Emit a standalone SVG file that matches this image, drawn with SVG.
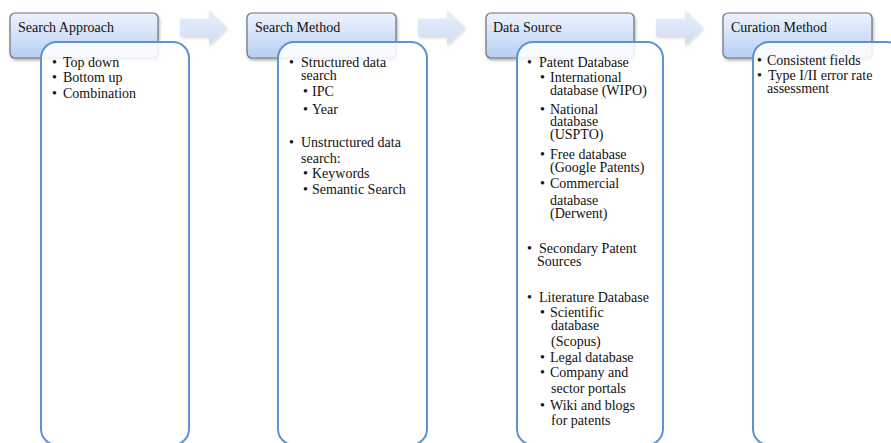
<svg xmlns="http://www.w3.org/2000/svg" width="891" height="443" viewBox="0 0 891 443">
<defs>
<linearGradient id="hg" x1="0" y1="0" x2="0" y2="1">
<stop offset="0" stop-color="#eef3fd"/>
<stop offset="1" stop-color="#b8cef4"/>
</linearGradient>
<linearGradient id="ag" x1="0" y1="0" x2="0" y2="1">
<stop offset="0" stop-color="#e9f0fb"/>
<stop offset="1" stop-color="#cfdcf3"/>
</linearGradient>
<filter id="sh" x="-10%" y="-20%" width="130%" height="160%">
<feDropShadow dx="1" dy="2" stdDeviation="1.5" flood-color="#000" flood-opacity="0.3"/>
</filter>
<filter id="sh2" x="-10%" y="-20%" width="130%" height="160%">
<feDropShadow dx="1" dy="2" stdDeviation="1.5" flood-color="#000" flood-opacity="0.15"/>
</filter>
<path id="arr" d="M0,8.5 H29 V0 L47,17.5 L29,35 V26 H0 Z"/>
</defs>
<style>
.hdr{fill:url(#hg);stroke:#6a717c;stroke-width:1.2;filter:url(#sh)}
.box{fill:#ffffff;fill-opacity:0.88;stroke:#5f93cf;stroke-width:2}
.arrow{fill:url(#ag);filter:url(#sh2)}
text{font-family:"Liberation Serif","Times New Roman",serif;font-size:14px;fill:#111}
</style>
<rect width="891" height="443" fill="#ffffff"/>
<g id="connectors">
<use href="#arr" class="arrow" x="180" y="10"/>
<use href="#arr" class="arrow" x="418" y="10"/>
<use href="#arr" class="arrow" x="656" y="10"/>
</g>
<g id="search-approach">
<rect class="hdr" x="10" y="13" width="148" height="45" rx="5"/>
<text x="18" y="32">Search Approach</text>
<rect class="box" x="41" y="42" width="148" height="403" rx="16"/>
<text><tspan x="52" y="67">•</tspan><tspan x="63" y="67">Top down</tspan>
<tspan x="52" y="82">•</tspan><tspan x="63" y="82">Bottom up</tspan>
<tspan x="52" y="98">•</tspan><tspan x="63" y="98">Combination</tspan></text>
</g>
<g id="search-method">
<rect class="hdr" x="247" y="13" width="149" height="45" rx="5"/>
<text x="255" y="32">Search Method</text>
<rect class="box" x="278" y="42" width="149" height="403" rx="16"/>
<text><tspan x="289" y="67">•</tspan><tspan x="301" y="67">Structured data</tspan>
<tspan x="301" y="80">search</tspan>
<tspan x="303" y="96">•</tspan><tspan x="312" y="96">IPC</tspan>
<tspan x="303" y="114">•</tspan><tspan x="312" y="114">Year</tspan>
<tspan x="289" y="147">•</tspan><tspan x="301" y="147">Unstructured data</tspan>
<tspan x="301" y="163">search:</tspan>
<tspan x="303" y="178">•</tspan><tspan x="312" y="178">Keywords</tspan>
<tspan x="303" y="194">•</tspan><tspan x="312" y="194">Semantic Search</tspan></text>
</g>
<g id="data-source">
<rect class="hdr" x="486" y="13" width="148" height="45" rx="5"/>
<text x="493" y="32">Data Source</text>
<rect class="box" x="517" y="42" width="146" height="403" rx="16"/>
<text><tspan x="527" y="67">•</tspan><tspan x="539" y="67">Patent Database</tspan>
<tspan x="540" y="82">•</tspan><tspan x="550" y="82">International</tspan>
<tspan x="550" y="95">database (WIPO)</tspan>
<tspan x="540" y="114">•</tspan><tspan x="550" y="114">National</tspan>
<tspan x="550" y="126">database</tspan>
<tspan x="550" y="139">(USPTO)</tspan>
<tspan x="540" y="159">•</tspan><tspan x="550" y="159">Free database</tspan>
<tspan x="550" y="172">(Google Patents)</tspan>
<tspan x="540" y="188">•</tspan><tspan x="550" y="188">Commercial</tspan>
<tspan x="550" y="205">database</tspan>
<tspan x="550" y="218">(Derwent)</tspan>
<tspan x="527" y="253">•</tspan><tspan x="539" y="253">Secondary Patent</tspan>
<tspan x="537" y="266">Sources</tspan>
<tspan x="527" y="302">•</tspan><tspan x="539" y="302">Literature Database</tspan>
<tspan x="540" y="317">•</tspan><tspan x="550" y="317">Scientific</tspan>
<tspan x="551" y="330">database</tspan>
<tspan x="551" y="346">(Scopus)</tspan>
<tspan x="540" y="362">•</tspan><tspan x="550" y="362">Legal database</tspan>
<tspan x="540" y="377">•</tspan><tspan x="550" y="377">Company and</tspan>
<tspan x="551" y="393">sector portals</tspan>
<tspan x="540" y="410">•</tspan><tspan x="550" y="410">Wiki and blogs</tspan>
<tspan x="551" y="425">for patents</tspan></text>
</g>
<g id="curation-method">
<rect class="hdr" x="723" y="13" width="149" height="45" rx="5"/>
<text x="731" y="32">Curation Method</text>
<rect class="box" x="753" y="42" width="150" height="403" rx="16"/>
<text><tspan x="757" y="65">•</tspan><tspan x="767" y="65">Consistent fields</tspan>
<tspan x="757" y="80">•</tspan><tspan x="768" y="80">Type I/II error rate</tspan>
<tspan x="767" y="93">assessment</tspan></text>
</g>
</svg>
